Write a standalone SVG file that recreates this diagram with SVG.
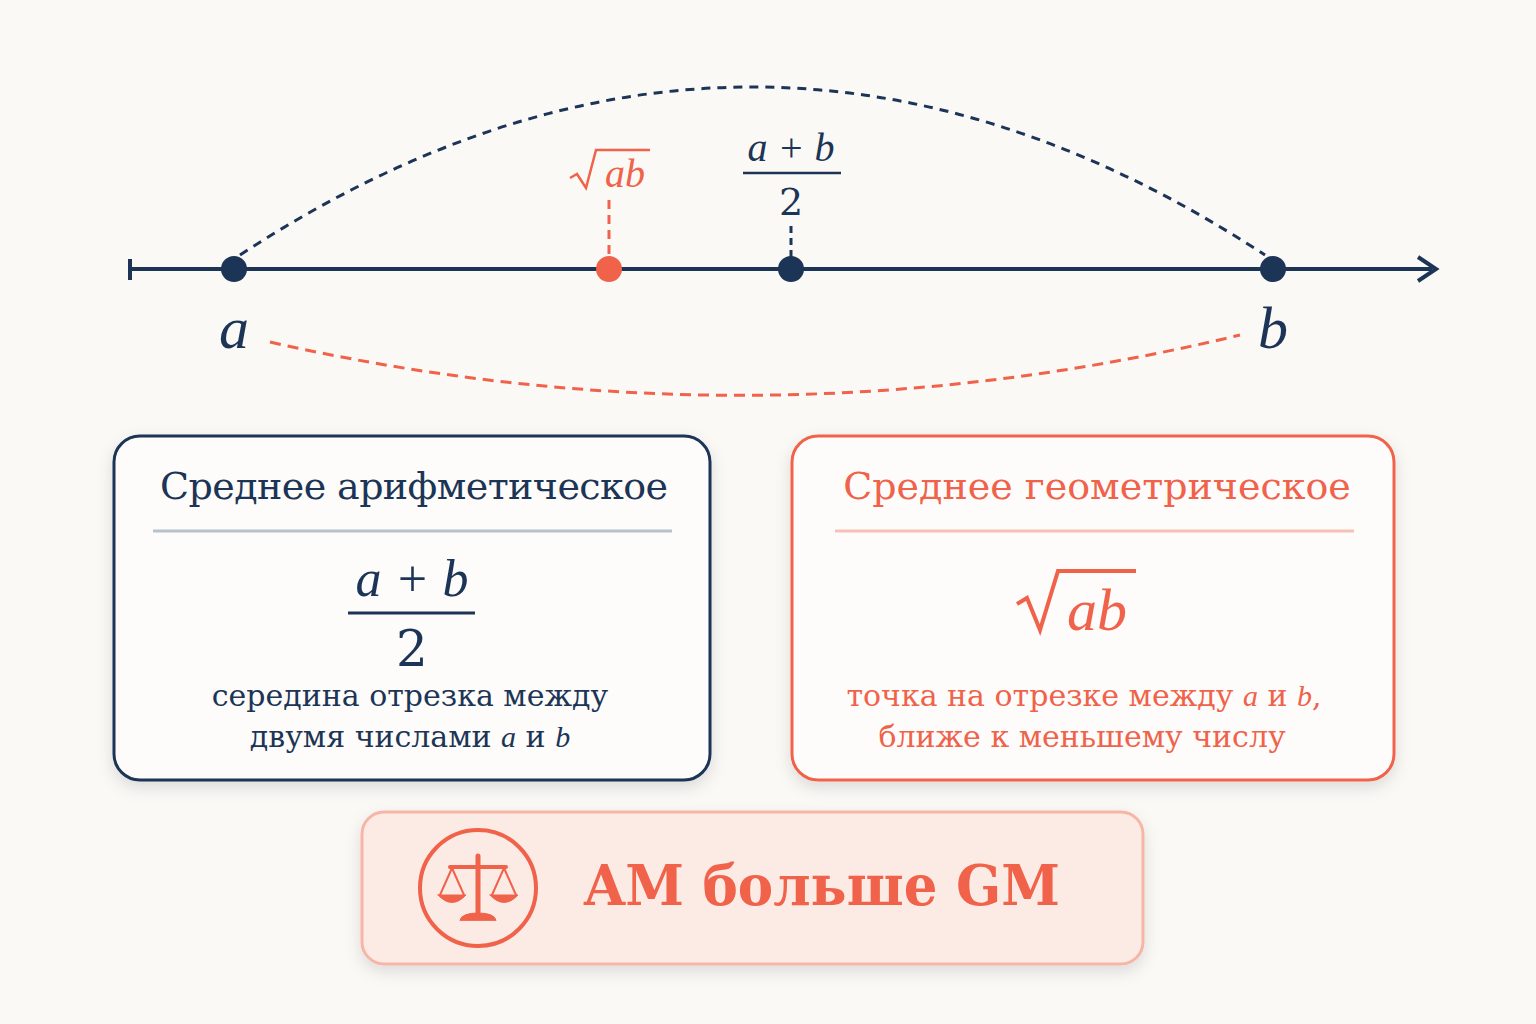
<svg xmlns="http://www.w3.org/2000/svg" width="1536" height="1024" viewBox="0 0 1536 1024">
<defs>
<style>
.navy{fill:#1c3557}.cor{fill:#f0624a}
.serif{font-family:"DejaVu Serif","Liberation Serif",serif}
.it{font-family:"Liberation Serif",serif;font-style:italic}
</style>
<filter id="sh" x="-10%" y="-10%" width="120%" height="130%"><feDropShadow dx="0" dy="6" stdDeviation="8" flood-color="#000" flood-opacity="0.12"/></filter>
</defs>
<rect width="1536" height="1024" fill="#fbf9f6"/>
<g id="connectors" fill="none">
<line x1="130" y1="269" x2="1432" y2="269" stroke="#1c3557" stroke-width="4"/>
<line x1="130" y1="259" x2="130" y2="280" stroke="#1c3557" stroke-width="4"/>
<polyline points="1418,257 1436,269 1418,281" stroke="#1c3557" stroke-width="4"/>
<path d="M240,255 Q752,-81 1265,255" stroke="#1c3557" stroke-width="3" stroke-dasharray="9,7"/>
<path d="M270,342 Q755,452 1240,335" stroke="#f0624a" stroke-width="3" stroke-dasharray="11,7"/>
<line x1="609" y1="200" x2="609" y2="258" stroke="#f0624a" stroke-width="3" stroke-dasharray="9,6"/>
<line x1="791" y1="226" x2="791" y2="258" stroke="#1c3557" stroke-width="3" stroke-dasharray="7,5"/>
</g>
<g id="point-a"><circle cx="234" cy="269" r="13" class="navy"/><text x="234" y="348" text-anchor="middle" class="it navy" font-size="60">a</text></g>
<g id="point-b"><circle cx="1273" cy="269" r="13" class="navy"/><text x="1273" y="348" text-anchor="middle" class="it navy" font-size="60">b</text></g>
<g id="point-gm"><circle cx="609" cy="269" r="13" class="cor"/>
<path d="M570,178 L577,174 L586,188 L596,150 L650,150" fill="none" stroke="#f0624a" stroke-width="2.5"/>
<text x="625" y="187" text-anchor="middle" class="it cor" font-size="40">ab</text></g>
<g id="point-am"><circle cx="791" cy="269" r="13" class="navy"/>
<text x="791" y="161" text-anchor="middle" class="it navy" font-size="40">a + b</text>
<line x1="743" y1="173" x2="841" y2="173" stroke="#1c3557" stroke-width="2.5"/>
<text x="791" y="215" text-anchor="middle" class="serif navy" font-size="38">2</text></g>
<g id="am-box">
<rect x="114" y="436" width="596" height="344" rx="26" fill="#fdfcfa" stroke="#1c3557" stroke-width="3" filter="url(#sh)"/>
<text x="414" y="499" text-anchor="middle" class="serif navy" font-size="38" textLength="508">Среднее арифметическое</text>
<line x1="153" y1="531" x2="672" y2="531" stroke="#b8c2cc" stroke-width="3"/>
<text x="412" y="596" text-anchor="middle" class="it navy" font-size="52">a + b</text>
<line x1="348" y1="613" x2="475" y2="613" stroke="#1c3557" stroke-width="3"/>
<text x="412" y="666" text-anchor="middle" class="serif navy" font-size="50">2</text>
<text x="410" y="706" text-anchor="middle" class="serif navy" font-size="30">середина отрезка между</text>
<text x="410" y="747" text-anchor="middle" class="serif navy" font-size="30">двумя числами <tspan class="it">a</tspan> и <tspan class="it">b</tspan></text>
</g>
<g id="gm-box">
<rect x="792" y="436" width="602" height="344" rx="26" fill="#fdfcfa" stroke="#f0624a" stroke-width="3" filter="url(#sh)"/>
<text x="1097" y="499" text-anchor="middle" class="serif cor" font-size="38">Среднее геометрическое</text>
<line x1="835" y1="531" x2="1354" y2="531" stroke="#f7c2b5" stroke-width="3"/>
<path d="M1017,604 L1027,598 L1040,630 L1058,571 L1136,571" fill="none" stroke="#f0624a" stroke-width="4"/>
<text x="1097" y="630" text-anchor="middle" class="it cor" font-size="60">ab</text>
<text x="1084" y="706" text-anchor="middle" class="serif cor" font-size="30">точка на отрезке между <tspan class="it">a</tspan> и <tspan class="it">b</tspan>,</text>
<text x="1082" y="747" text-anchor="middle" class="serif cor" font-size="30">ближе к меньшему числу</text>
</g>
<g id="conclusion">
<rect x="362" y="812" width="781" height="152" rx="22" fill="#fcebe5" stroke="#f6b5a6" stroke-width="3" filter="url(#sh)"/>
<circle cx="478" cy="888" r="58" fill="none" stroke="#f0624a" stroke-width="4"/>
<g fill="#f0624a" stroke="#f0624a" stroke-linecap="round">
<line x1="478" y1="856" x2="478" y2="915" stroke-width="5"/>
<line x1="450" y1="867" x2="506" y2="867" stroke-width="4"/>
<path d="M452,868 L440,895 M452,868 L464,895 M504,868 L492,895 M504,868 L516,895" fill="none" stroke-width="2"/>
<path d="M438,895 L466,895 Q452,910 438,895Z" stroke-width="1"/>
<path d="M490,895 L518,895 Q504,910 490,895Z" stroke-width="1"/>
<path d="M460,920 Q462,913 478,913 Q494,913 496,920Z" stroke-width="1"/>
</g>
<text x="822" y="905" text-anchor="middle" class="serif cor" font-size="56" font-weight="bold" textLength="476" lengthAdjust="spacingAndGlyphs">AM больше GM</text>
</g>
</svg>
